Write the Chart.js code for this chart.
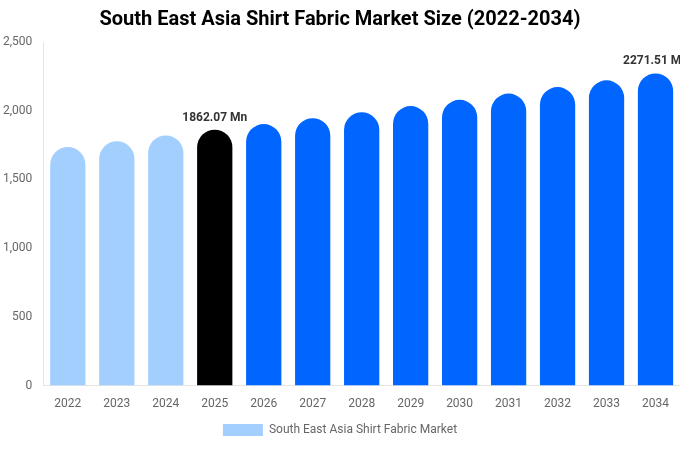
<!DOCTYPE html>
<html><head><meta charset="utf-8">
<script src="https://cdn.jsdelivr.net/npm/chart.js@4/dist/chart.umd.min.js"></script>
<style>html,body{margin:0;padding:0;background:#fff}#w{width:680px;height:450px}</style>
</head><body><div id="w"><canvas id="c"></canvas></div>
<script>
const categories = ['2022','2023','2024','2025','2026','2027','2028','2029','2030','2031','2032','2033','2034'];
const values = [1736, 1778, 1820, 1862.07, 1903, 1946, 1989, 2034, 2079, 2125, 2172, 2221, 2271.51];
const barColors = ['#a3cfff','#a3cfff','#a3cfff','#000000','#0066ff','#0066ff','#0066ff','#0066ff','#0066ff','#0066ff','#0066ff','#0066ff','#0066ff'];
const labelled = {3:'1862.07 Mn', 12:'2271.51 Mn'};
const seriesName = 'South East Asia Shirt Fabric Market';

const labelPlugin = {
  id:'lbl',
  afterDatasetsDraw(chart){
    const ctx = chart.ctx, meta = chart.getDatasetMeta(0);
    ctx.save();
    ctx.font = 'bold 12px Roboto, Arial, sans-serif';
    ctx.fillStyle = '#333';
    ctx.textAlign = 'center';
    for (const k in labelled){
      const el = meta.data[k];
      ctx.fillText(labelled[k], el.x, el.y - 12);
    }
    ctx.restore();
  }
};

new Chart(document.getElementById('c'), {
  type:'bar',
  data:{labels:categories, datasets:[{label:seriesName, data:values, backgroundColor:barColors,
    borderRadius:{topLeft:18, topRight:18}, borderSkipped:'bottom', barPercentage:0.72, categoryPercentage:1}]},
  options:{
    responsive:true, maintainAspectRatio:false, animation:false,
    layout:{padding:{left:0,right:0,top:0,bottom:4}},
    plugins:{
      title:{display:true, text:'South East Asia Shirt Fabric Market Size (2022-2034)', color:'#000',
        font:{family:'Roboto, Arial, sans-serif', size:20, weight:'bold'}, padding:{top:8,bottom:10}},
      legend:{position:'bottom', labels:{color:'#666', boxWidth:40, boxHeight:12,
        font:{family:'Roboto, Arial, sans-serif', size:12},
        generateLabels:()=>[{text:seriesName, fillStyle:'#a3cfff', strokeStyle:'#a3cfff', lineWidth:0, fontColor:'#666'}]}},
      tooltip:{enabled:false}
    },
    scales:{
      x:{grid:{display:false}, ticks:{color:'#666', font:{family:'Roboto, Arial, sans-serif', size:12}}},
      y:{min:0, max:2500, grid:{display:false}, border:{display:true, color:'#e5e5e5'},
        ticks:{stepSize:500, color:'#666', font:{family:'Roboto, Arial, sans-serif', size:12},
          callback:v=>v.toLocaleString('en-US')}}
    }
  },
  plugins:[labelPlugin]
});
</script></body></html>
